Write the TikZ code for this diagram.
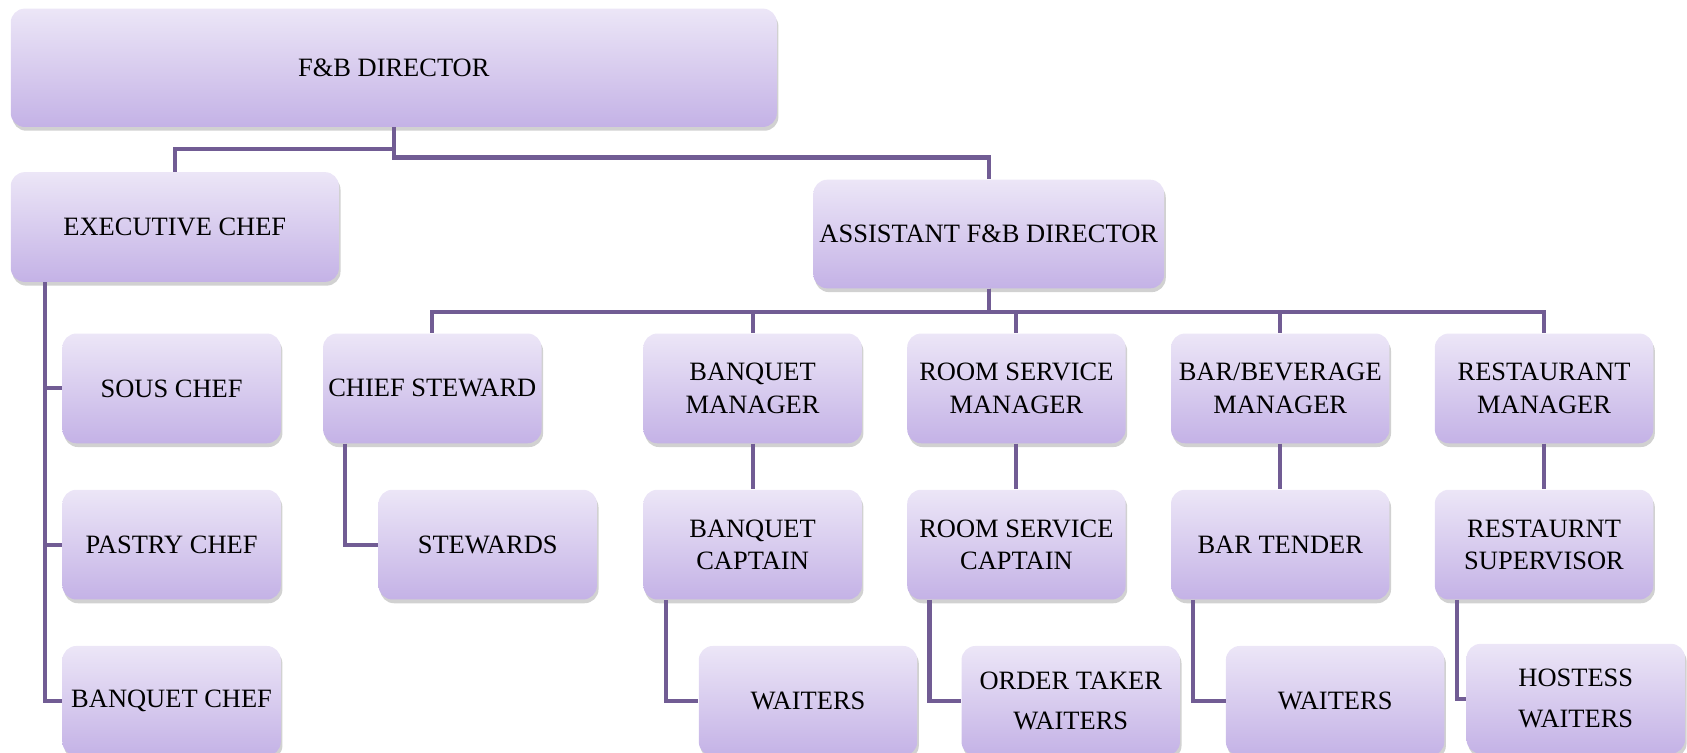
\documentclass[tikz,border=0pt]{standalone}
\usepackage{fontspec}
\setmainfont{Liberation Serif}
\usetikzlibrary{
    positioning,
    shadows
}
\definecolor{boxtop}{RGB}{236,230,247}
\definecolor{boxbottom}{RGB}{196,178,230}
\definecolor{linkpurple}{RGB}{113,92,148}

\begin{document}
\begin{tikzpicture}[
    node distance=0.85cm and 0.83cm,
    post/.style={
        rectangle,
        rounded corners=0.26cm,
        top color=boxtop,
        bottom color=boxbottom,
        minimum width=4.06cm,
        minimum height=2.04cm,
        inner sep=0pt,
        align=center,
        font=\fontsize{14}{17}\selectfont,
        drop shadow={shadow xshift=0.03cm, shadow yshift=-0.07cm, opacity=0.3, fill=black!60}
    },
    link/.style={draw=linkpurple, line width=2.2pt}
]
\useasboundingbox (0,0) rectangle (31.36,-13.98);

% Head and second level
\node[post, minimum width=14.24cm, minimum height=2.2cm] (director) at (7.32,-1.26) {F\&B DIRECTOR};
\node[post, minimum width=6.1cm] (exec) at (3.25,-4.22) {EXECUTIVE CHEF};
\node[post, minimum width=6.52cm, minimum height=2.02cm] (asst) at (18.38,-4.35) {ASSISTANT F\&B DIRECTOR};

% Kitchen
\node[post] (sous) at (3.19,-7.22) {SOUS CHEF};
\node[post, below=of sous] (pastry) {PASTRY CHEF};
\node[post, below=of pastry] (banqchef) {BANQUET CHEF};

% Managers
\node[post] (banqmgr) at (13.99,-7.22) {BANQUET\\MANAGER};
\node[post, left=1.88cm of banqmgr] (steward) {CHIEF STEWARD};
\node[post, right=of banqmgr] (roommgr) {ROOM SERVICE\\MANAGER};
\node[post, right=of roommgr] (barmgr) {BAR/BEVERAGE\\MANAGER};
\node[post, right=of barmgr] (restmgr) {RESTAURANT\\MANAGER};

% Captains
\node[post, below=of steward, xshift=1.03cm] (stewards) {STEWARDS};
\node[post, below=of banqmgr] (banqcapt) {BANQUET\\CAPTAIN};
\node[post, below=of roommgr] (roomcapt) {ROOM SERVICE\\CAPTAIN};
\node[post, below=of barmgr] (bartender) {BAR TENDER};
\node[post, below=of restmgr] (restsup) {RESTAURNT\\SUPERVISOR};

% Floor staff
\node[post, below=of banqcapt, xshift=1.03cm] (banqwait) {WAITERS};
\node[post, below=of roomcapt, xshift=1.01cm] (roomwait) {ORDER TAKER\\[0.16cm]WAITERS};
\node[post, below=of bartender, xshift=1.02cm] (barwait) {WAITERS};
\node[post, below=of restsup, xshift=0.59cm, yshift=0.04cm] (hostess) {HOSTESS\\[0.16cm]WAITERS};

% Connectors
\draw[link] (director.south) -- ++(0,-0.41) -| (exec.north);
\draw[link] (director.south) -- ++(0,-0.56) -| (asst.north);
\foreach \kid in {sous, pastry, banqchef}
    \draw[link] ([xshift=0.64cm]exec.south west) |- (\kid.west);
\foreach \kid in {steward, banqmgr, roommgr, barmgr, restmgr}
    \draw[link] (asst.south) -- ++(0,-0.43) -| (\kid.north);
\draw[link] ([xshift=0.42cm]steward.south west) |- (stewards.west);
\draw[link] (banqmgr.south) -- (banqcapt.north);
\draw[link] (roommgr.south) -- (roomcapt.north);
\draw[link] (barmgr.south) -- (bartender.north);
\draw[link] (restmgr.south) -- (restsup.north);
\draw[link] ([xshift=0.42cm]banqcapt.south west) |- (banqwait.west);
\draw[link] ([xshift=0.42cm]roomcapt.south west) |- (roomwait.west);
\draw[link] ([xshift=0.42cm]bartender.south west) |- (barwait.west);
\draw[link] ([xshift=0.42cm]restsup.south west) |- (hostess.west);

\end{tikzpicture}
\end{document}
